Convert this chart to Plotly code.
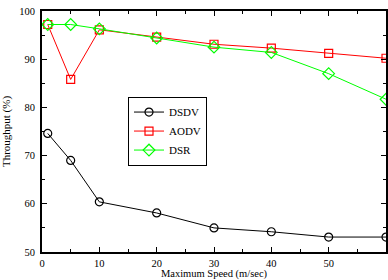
import plotly.graph_objects as go

speed = [1, 5, 10, 20, 30, 40, 50, 60]
dsdv = [74.6, 69.0, 60.4, 58.1, 55.0, 54.2, 53.1, 53.1]
aodv = [97.2, 85.8, 96.1, 94.6, 93.1, 92.3, 91.2, 90.2]
dsr = [97.2, 97.2, 96.3, 94.4, 92.5, 91.4, 87.0, 81.7]

font = "Liberation Serif, Times New Roman, serif"
fig = go.Figure()
fig.add_trace(go.Scatter(x=speed, y=dsdv, name="DSDV", mode="lines+markers",
                         line=dict(color="black", width=1),
                         marker=dict(symbol="circle-open", size=8, color="black", line=dict(width=1.2))))
fig.add_trace(go.Scatter(x=speed, y=aodv, name="AODV", mode="lines+markers",
                         line=dict(color="#ff0000", width=1),
                         marker=dict(symbol="square-open", size=8, color="#ff0000", line=dict(width=1.2))))
fig.add_trace(go.Scatter(x=speed, y=dsr, name="DSR", mode="lines+markers",
                         line=dict(color="#00ff00", width=1),
                         marker=dict(symbol="diamond-open", size=9, color="#00ff00", line=dict(width=1.2))))

axis_common = dict(showgrid=False, zeroline=False, showline=True, linecolor="black", linewidth=2,
                   mirror="allticks", ticks="inside", ticklen=5, tickcolor="black", tickwidth=1,
                   tickfont=dict(family=font, size=10.5, color="black"))
fig.update_xaxes(range=[0, 60], dtick=10, tick0=0,
                 minor=dict(dtick=5, ticks="inside", ticklen=3, tickcolor="black"),
                 title=dict(text="Maximum Speed (m/sec)", font=dict(family=font, size=10.5, color="black"), standoff=2),
                 ticklabelstandoff=0,
                 **axis_common)
fig.update_yaxes(range=[50, 100], dtick=10, tick0=50,
                 minor=dict(dtick=5, ticks="inside", ticklen=3, tickcolor="black"),
                 title=dict(text="Throughput (%)", font=dict(family=font, size=11, color="black"), standoff=10),
                 ticklabelstandoff=3,
                 **axis_common)
fig.update_layout(width=388, height=280, margin=dict(l=42, r=2, t=11, b=28, autoexpand=False),
                  plot_bgcolor="white", paper_bgcolor="white",
                  font=dict(family=font, color="black"),
                  legend=dict(x=0.25, y=0.645, xanchor="left", yanchor="top",
                              bordercolor="black", borderwidth=1, bgcolor="white",
                              font=dict(family=font, size=11), itemwidth=30,
                              tracegroupgap=0),
                  showlegend=True)
fig.write_html("out.html", config={"displayModeBar": False},
               post_script="document.body.style.margin='0';")
